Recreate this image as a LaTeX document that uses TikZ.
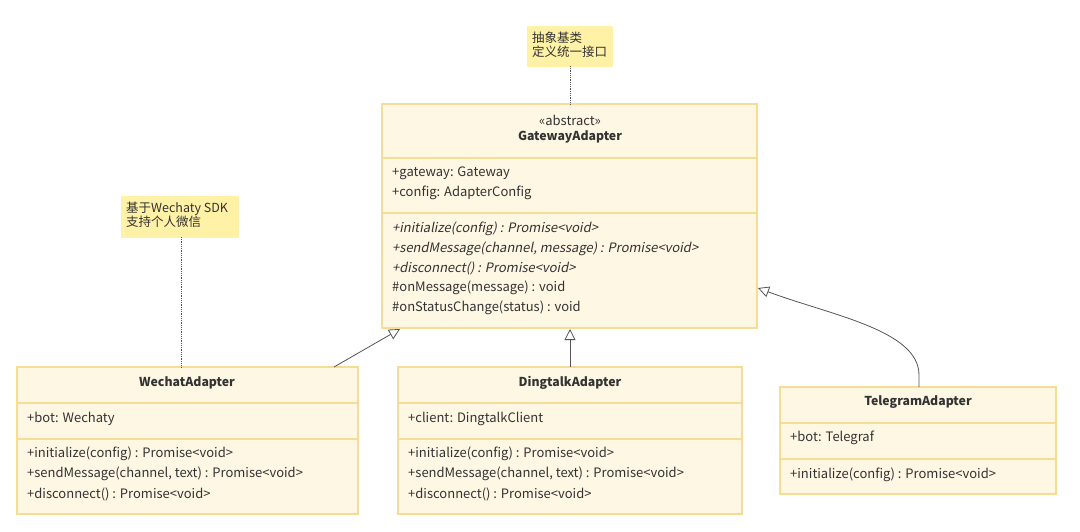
\documentclass[tikz,border=0pt]{standalone}
\usepackage{fontspec}
\setmainfont{Noto Sans CJK SC}[ItalicFont={Noto Sans CJK SC}, ItalicFeatures={FakeSlant=0.2}]
\usetikzlibrary{arrows.meta}
\definecolor{boxfill}{HTML}{FEF7E3}
\definecolor{boxline}{HTML}{F5DE93}
\definecolor{notefill}{HTML}{FFF1A6}
\definecolor{txt}{HTML}{333333}
\definecolor{edge}{HTML}{555555}
\tikzset{
  cls/.style={draw=boxline, fill=boxfill, line width=1.2pt},
  sep/.style={draw=boxline, line width=1.2pt},
  note/.style={fill=notefill, draw=notefill},
  mem/.style={anchor=west, inner sep=0pt, text=txt, font=\fontsize{13}{15}\selectfont},
  ttl/.style={anchor=center, inner sep=0pt, text=txt, font=\fontsize{12.3}{15}\selectfont\bfseries},
  ntext/.style={anchor=north west, inner sep=0pt, text=txt, align=left, font=\fontsize{12.5}{13.5}\selectfont},
  inh/.style={draw=edge, line width=0.8pt, -{Triangle[open, length=11pt, width=11pt]}},
  dotline/.style={draw=edge, line width=0.8pt, densely dotted},
}
\begin{document}
\begin{tikzpicture}[x=1pt,y=-1pt]
\useasboundingbox[fill=white] (0,0) rectangle (1080,532);

% ---------- GatewayAdapter ----------
\path[cls] (382,104) rectangle (757,328);
\coordinate (gaTop) at (570,104);
\coordinate (gaBotL) at (400,329);
\coordinate (gaBotM) at (570,329);
\coordinate (gaRight) at (758,288);
\draw[sep] (382,158) -- (757,158);
\draw[sep] (382,213) -- (757,213);
\node[mem, anchor=center] (gaSt) at (570,120) {«abstract»};
\node[ttl] (gaT) at (570,137) {GatewayAdapter};
\node[mem] (ga1) at (392,173) {+gateway: Gateway};
\node[mem] (ga2) at (392,193) {+config: AdapterConfig};
\node[mem, font=\fontsize{13}{15}\selectfont\itshape] (ga3) at (392,229) {+initialize(config) : Promise<void>};
\node[mem, font=\fontsize{13}{15}\selectfont\itshape] (ga4) at (392,249) {+sendMessage(channel, message) : Promise<void>};
\node[mem, font=\fontsize{13}{15}\selectfont\itshape] (ga5) at (392,268) {+disconnect() : Promise<void>};
\node[mem] (ga6) at (392,288) {\#onMessage(message) : void};
\node[mem] (ga7) at (392,308) {\#onStatusChange(status) : void};

% ---------- WechatAdapter ----------
\path[cls] (17,367) rectangle (358,514);
\coordinate (wcTop) at (334,367);
\coordinate (wcNote) at (181,367);
\draw[sep] (17,403) -- (358,403);
\draw[sep] (17,439) -- (358,439);
\node[ttl] (wcT) at (187,383) {WechatAdapter};
\node[mem] (wc1) at (27,419) {+bot: Wechaty};
\node[mem] (wc2) at (27,454) {+initialize(config) : Promise<void>};
\node[mem] (wc3) at (27,474) {+sendMessage(channel, text) : Promise<void>};
\node[mem] (wc4) at (27,494) {+disconnect() : Promise<void>};

% ---------- DingtalkAdapter ----------
\path[cls] (398,367) rectangle (742,514);
\coordinate (dtTop) at (570,367);
\draw[sep] (398,403) -- (742,403);
\draw[sep] (398,439) -- (742,439);
\node[ttl] (dtT) at (570,383) {DingtalkAdapter};
\node[mem] (dt1) at (408,419) {+client: DingtalkClient};
\node[mem] (dt2) at (408,454) {+initialize(config) : Promise<void>};
\node[mem] (dt3) at (408,474) {+sendMessage(channel, text) : Promise<void>};
\node[mem] (dt4) at (408,494) {+disconnect() : Promise<void>};

% ---------- TelegramAdapter ----------
\path[cls] (780,387) rectangle (1056,494);
\coordinate (tgTop) at (919,387);
\draw[sep] (780,423) -- (1056,423);
\draw[sep] (780,459) -- (1056,459);
\node[ttl] (tgT) at (918,402) {TelegramAdapter};
\node[mem] (tg1) at (790,438) {+bot: Telegraf};
\node[mem] (tg2) at (790,475) {+initialize(config) : Promise<void>};

% ---------- Notes ----------
\path[note] (527,26) rectangle (612,66);
\coordinate (n1Bot) at (570,66);
\node[ntext] (n1) at (532,32) {抽象基类\\定义统一接口};

\path[note] (121,196) rectangle (238,237);
\coordinate (n2Bot) at (181,237);
\node[ntext] (n2) at (126,202) {基于Wechaty SDK\\支持个人微信};

% ---------- Connectors ----------
\draw[dotline] (n1Bot) -- (gaTop);
\draw[dotline] (n2Bot) -- (wcNote);
\draw[inh] (wcTop) -- (gaBotL);
\draw[inh] (dtTop) -- (gaBotM);
\draw[inh] (tgTop) -- ++(0,-12) .. controls (919,330) and (830,315) .. (gaRight);
\end{tikzpicture}
\end{document}
